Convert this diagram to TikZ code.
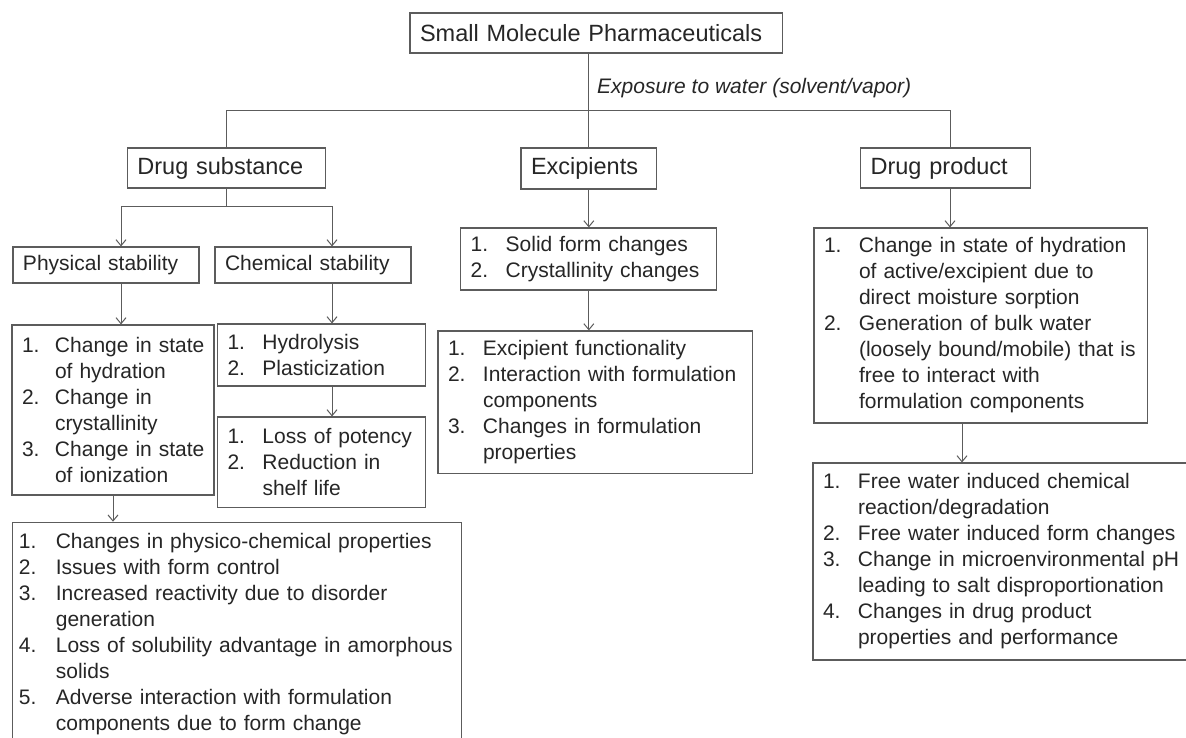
\documentclass[tikz,border=0pt]{standalone}
\usepackage{fontspec}
\setmainfont{Liberation Sans}
\usetikzlibrary{arrows.meta}
\definecolor{lc}{HTML}{5C5C5C}
\definecolor{tc}{HTML}{262626}
\newlength\numcol
\setlength\numcol{35pt}
\newcommand\lstfont{\fontsize{21}{26}\selectfont}
\newcommand\ttlfont{\fontsize{23.5}{28}\selectfont}
\newcommand\litem[2]{\mbox{\makebox[\numcol][l]{#1}#2}}
\newcommand\lcont[1]{\mbox{\hspace*{\numcol}#1}}
\tikzset{
  bx/.style={draw=lc, line width=1.1pt, rectangle, inner xsep=10pt, inner ysep=0pt,
    align=left, text=tc, font=\lstfont},
  ttl/.style={bx, font=\ttlfont},
  ln/.style={draw=lc, line width=1pt},
  arr/.style={ln, -{Straight Barb[length=6pt,width=10pt,line width=1pt]}},
  lbl/.style={inner sep=0pt, text=tc, font=\lstfont\itshape}
}
\begin{document}
\begin{tikzpicture}[x=1pt,y=-1pt]
\useasboundingbox (0,0) rectangle (1186,738);
\fill[white] (0,0) rectangle (1186,738);
\clip (0,0) rectangle (1186,738);

% title row
\node[ttl, text width=352.7pt, minimum height=40pt] (sm) at (596.35,33) {Small Molecule Pharmaceuticals};
\node[lbl, anchor=west] (expo) at (597,88) {Exposure to water (solvent/vapor)};
\node[ttl, text width=177.9pt, minimum height=40pt] (ds) at (226.35,168) {Drug substance};
\node[ttl, text width=115.7pt, minimum height=41pt] (exc) at (588.85,168.5) {Excipients};
\node[ttl, text width=150.1pt, minimum height=40pt] (dp) at (945.65,168) {Drug product};

% drug substance branch
\node[bx, text width=166pt, minimum height=36pt] (ps) at (106,265) {Physical stability};
\node[bx, text width=176pt, minimum height=36pt] (cs) at (313,265) {Chemical stability};
\node[bx, text width=182pt, minimum height=170pt] (pl) at (113,410) {\setlength\numcol{33pt}%
\litem{1.}{Change in state}\\
\lcont{of hydration}\\
\litem{2.}{Change in}\\
\lcont{crystallinity}\\
\litem{3.}{Change in state}\\
\lcont{of ionization}};
\node[bx, text width=188.2pt, minimum height=62pt] (hy) at (321.6,355) {%
\litem{1.}{Hydrolysis}\\
\litem{2.}{Plasticization}};
\node[bx, text width=188.2pt, minimum height=90.7pt] (loss) at (321.6,462.35) {%
\litem{1.}{Loss of potency}\\
\litem{2.}{Reduction in}\\
\lcont{shelf life}};
\node[bx, anchor=north west, inner xsep=6pt, inner ysep=11pt, text width=436.7pt] (bl) at (12.3,521.7) {\setlength\numcol{37pt}%
\litem{1.}{Changes in physico-chemical properties}\\
\litem{2.}{Issues with form control}\\
\litem{3.}{Increased reactivity due to disorder}\\
\lcont{generation}\\
\litem{4.}{Loss of solubility advantage in amorphous}\\
\lcont{solids}\\
\litem{5.}{Adverse interaction with formulation}\\
\lcont{components due to form change}};

% excipients branch
\node[bx, text width=236pt, minimum height=62pt] (sf) at (588.7,259) {%
\litem{1.}{Solid form changes}\\
\litem{2.}{Crystallinity changes}};
\node[bx, text width=294.7pt, minimum height=142.3pt] (el) at (595.35,402.15) {%
\litem{1.}{Excipient functionality}\\
\litem{2.}{Interaction with formulation}\\
\lcont{components}\\
\litem{3.}{Changes in formulation}\\
\lcont{properties}};

% drug product branch
\node[bx, text width=313.7pt, minimum height=195pt] (dpl) at (980.85,325.5) {%
\litem{1.}{Change in state of hydration}\\
\lcont{of active/excipient due to}\\
\lcont{direct moisture sorption}\\
\litem{2.}{Generation of bulk water}\\
\lcont{(loosely bound/mobile) that is}\\
\lcont{free to interact with}\\
\lcont{formulation components}};
\node[bx, text width=362pt, minimum height=197pt] (dpr) at (1004,561.5) {%
\litem{1.}{Free water induced chemical}\\
\lcont{reaction/degradation}\\
\litem{2.}{Free water induced form changes}\\
\litem{3.}{Change in microenvironmental pH}\\
\lcont{leading to salt disproportionation}\\
\litem{4.}{Changes in drug product}\\
\lcont{properties and performance}};

% helper coordinates
\coordinate (busL) at (226.35,111);
\coordinate (busR) at (950,111);
\coordinate (dsj) at (226.35,207);
\coordinate (xps) at (121,0);
\coordinate (xcs) at (332,0);
\coordinate (xdp) at (962,0);

% connectors
\draw[ln] (sm.south -| exc.north) -- (exc.north);
\draw[ln] (ds.north) -- (busL) -- (busR) -- (busR |- dp.north);
\draw[ln] (ds.south) -- (dsj);
\draw[arr] (dsj) -| (ps.north -| xps);
\draw[arr] (dsj) -| (cs.north -| xcs);
\draw[arr] (ps.south -| xps) -- (pl.north -| xps);
\draw[arr] (cs.south -| xcs) -- (hy.north -| xcs);
\draw[arr] (hy.south -| xcs) -- (loss.north -| xcs);
\draw[arr] (pl.south) -- (pl.south |- bl.north);
\draw[arr] (exc.south) -- (exc.south |- sf.north);
\draw[arr] (sf.south -| exc.south) -- (el.north -| exc.south);
\draw[arr] (dp.south -| busR) -- (dpl.north -| busR);
\draw[arr] (dpl.south -| xdp) -- (dpr.north -| xdp);
\end{tikzpicture}
\end{document}
